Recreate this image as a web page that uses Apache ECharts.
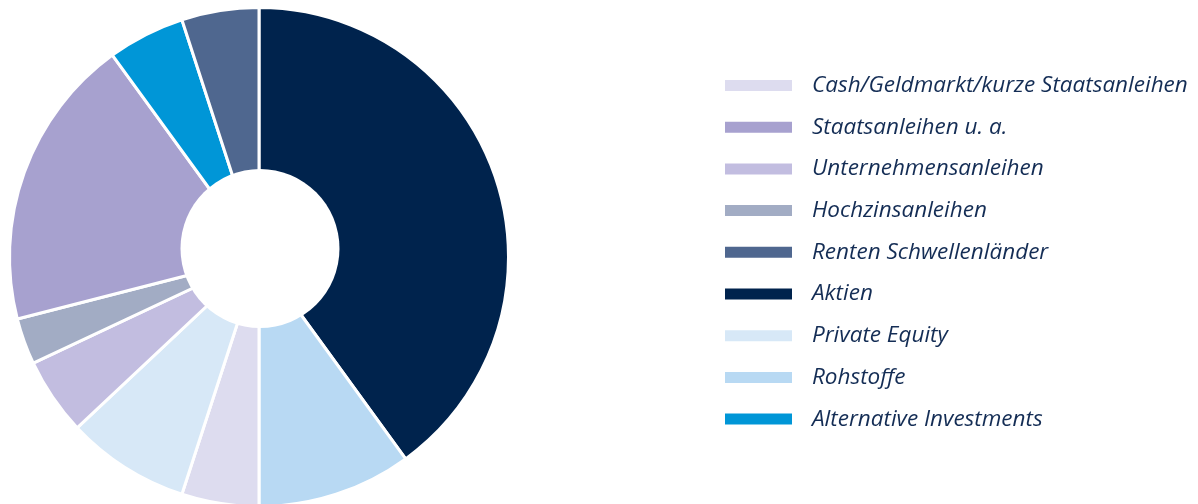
<!DOCTYPE html>
<html>
<head>
<meta charset="utf-8">
<script src="https://cdn.jsdelivr.net/npm/echarts@6/dist/echarts.min.js"></script>
<style>
html,body{margin:0;padding:0;background:#fff;}
#chart{width:1198px;height:504px;}
</style>
</head>
<body>
<div id="chart"></div>
<script>
// Slice order as drawn, clockwise from 12 o'clock
var sliceNames = ["Aktien", "Rohstoffe", "Cash/Geldmarkt/kurze Staatsanleihen", "Private Equity", "Unternehmensanleihen", "Hochzinsanleihen", "Staatsanleihen u. a.", "Alternative Investments", "Renten Schwellenländer"];
var sliceValues = [40, 10, 5, 8, 5, 3, 19, 5, 5];
var sliceColors = ["#00234d", "#b8d9f3", "#dddcef", "#d7e8f7", "#c2bde0", "#a2acc4", "#a7a1cf", "#0096d7", "#4f678f"];
// Legend order
var legendNames = ["Cash/Geldmarkt/kurze Staatsanleihen", "Staatsanleihen u. a.", "Unternehmensanleihen", "Hochzinsanleihen", "Renten Schwellenländer", "Aktien", "Private Equity", "Rohstoffe", "Alternative Investments"];

var data = sliceNames.map(function (n, i) {
  return { name: n, value: sliceValues[i], itemStyle: { color: sliceColors[i] } };
});

var chart = echarts.init(document.getElementById('chart'));
chart.setOption({
  animation: false,
  backgroundColor: '#ffffff',
  legend: {
    data: legendNames,
    orient: 'vertical',
    left: 723,
    top: 74,
    padding: 0,
    icon: 'rect',
    itemWidth: 69,
    itemHeight: 13,
    itemGap: 18.7,
    selectedMode: false,
    textStyle: {
      fontFamily: 'Open Sans',
      fontStyle: 'italic',
      fontSize: 22.5,
      lineHeight: 22,
      color: '#142d55',
      padding: [0, 0, 0, 14]
    }
  },
  series: [{
    type: 'pie',
    center: [259, 257],
    radius: [0, 249.5],
    startAngle: 90,
    clockwise: true,
    label: { show: false },
    labelLine: { show: false },
    emphasis: { scale: false },
    itemStyle: { borderColor: '#ffffff', borderWidth: 3 },
    data: data
  }],
  graphic: [{
    type: 'circle',
    shape: { cx: 260, cy: 248.5, r: 79.5 },
    style: { fill: '#ffffff' },
    silent: true,
    z: 100
  }]
});
</script>
</body>
</html>
